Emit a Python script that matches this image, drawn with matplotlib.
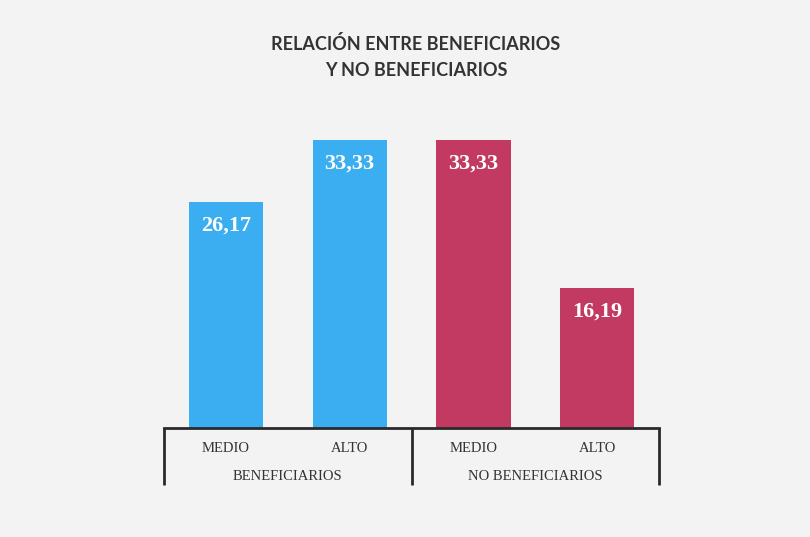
"""Relación entre beneficiarios y no beneficiarios (bar chart with grouped axis)."""

import matplotlib
matplotlib.use("Agg")
import matplotlib.pyplot as plt
from matplotlib.transforms import blended_transform_factory

# data
groups = ["BENEFICIARIOS", "NO BENEFICIARIOS"]
levels = ["MEDIO", "ALTO"]
values_benef = [26.17, 33.33]
values_no_benef = [33.33, 16.19]
group_colors = ["#3aaef0", "#c23a62"]

fig = plt.figure(figsize=(8.1, 5.37), dpi=100)
fig.patch.set_facecolor("#f3f3f3")
ax = fig.add_axes([164 / 810, 109 / 537, 495 / 810, 328 / 537])
ax.set_facecolor("none")

series = [values_benef, values_no_benef]
positions = []
labels = []
pos = 0
for gi, vals in enumerate(series):
    xs = list(range(pos, pos + len(vals)))
    bars = ax.bar(xs, vals, width=0.6, color=group_colors[gi])
    for b, v in zip(bars, vals):
        ax.annotate(f"{v:.2f}".replace(".", ","),
                    (b.get_x() + b.get_width() / 2, v),
                    xytext=(0, -17), textcoords="offset points",
                    ha="center", va="center", color="white",
                    fontsize=16, fontweight="bold", family="Liberation Serif")
    positions.append(xs)
    labels += levels
    pos += len(vals)

ax.set_xlim(-0.5, pos - 0.5)
ax.set_ylim(0, 38)
ax.set_yticks([])
ax.set_xticks([x for xs in positions for x in xs])
ax.set_xticklabels(labels, family="Liberation Serif", fontsize=10.5, color="#333333")
ax.tick_params(axis="x", length=0, pad=10)
for side in ["left", "right", "top"]:
    ax.spines[side].set_visible(False)
ax.spines["bottom"].set_linewidth(2)
ax.spines["bottom"].set_color("#2a2a2a")

# group bracket under the axis
trans = blended_transform_factory(ax.transData, ax.transAxes)
edges = [-0.5] + [xs[-1] + 0.5 for xs in positions]
for e in edges:
    ax.plot([e, e], [0, -0.174], transform=trans, color="#2a2a2a",
            lw=2, clip_on=False, solid_capstyle="butt")
for g, xs in zip(groups, positions):
    ax.text(sum(xs) / len(xs), -0.149, g, transform=trans, ha="center", va="center",
            family="Liberation Serif", fontsize=10.5, color="#333333")

fig.text(416 / 810, 1 - 57 / 537, "RELACIÓN ENTRE BENEFICIARIOS\nY NO BENEFICIARIOS",
         ha="center", va="center", fontsize=13, fontweight="bold",
         family="Lato", color="#333333", linespacing=1.7)

fig.savefig("out.png", dpi=100, facecolor=fig.get_facecolor())
